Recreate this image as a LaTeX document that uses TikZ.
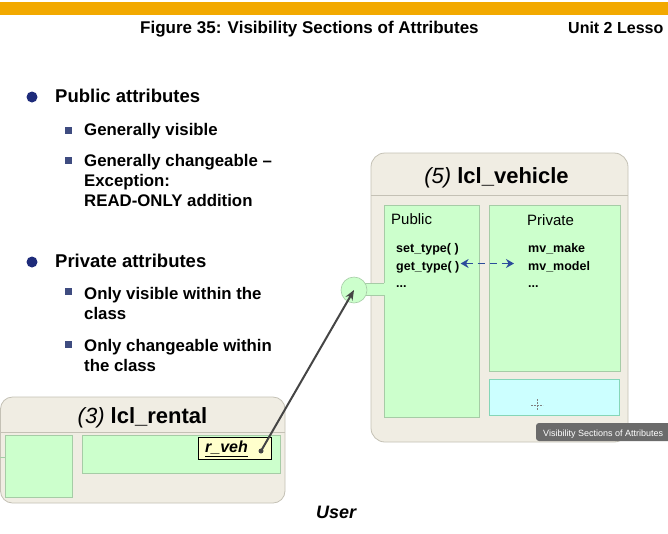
\documentclass[tikz,border=0pt]{standalone}
\usepackage{fontspec}
\setmainfont{Liberation Sans}
\usetikzlibrary{arrows.meta}
\usetikzlibrary{positioning}

\definecolor{barorange}{HTML}{F2A900}
\definecolor{bulletblue}{HTML}{1E2B7A}
\definecolor{squareblue}{HTML}{3F4C80}
\definecolor{classbg}{HTML}{F0EDE3}
\definecolor{classline}{HTML}{C4C1B5}
\definecolor{panelgreen}{HTML}{CCFFCC}
\definecolor{panelline}{HTML}{A6CCA6}
\definecolor{panelcyan}{HTML}{CCFFFF}
\definecolor{refyellow}{HTML}{FFFFCC}
\definecolor{arrowblue}{HTML}{2B4C9B}
\definecolor{linkgray}{HTML}{454545}
\definecolor{tipgray}{HTML}{6B6B6B}

\tikzset{
  header/.style={font=\bfseries\fontsize{17}{20}\selectfont, anchor=base west, inner sep=0pt},
  maintxt/.style={font=\bfseries\fontsize{18.5}{22}\selectfont, anchor=base west, inner sep=0pt},
  subtxt/.style={font=\bfseries\fontsize{16.8}{20}\selectfont, anchor=base west, inner sep=0pt},
  bigdot/.style={circle, fill=bulletblue, minimum size=11pt, inner sep=0pt},
  sqbullet/.style={rectangle, fill=squareblue, minimum size=7pt, inner sep=0pt},
  classbox/.style={fill=classbg, draw=classline, line width=0.8pt, rounded corners=14pt},
  classtitle/.style={font=\bfseries\fontsize{22}{26}\selectfont, anchor=base, inner sep=0pt},
  panel/.style={rectangle, fill=panelgreen, draw=panelline, line width=0.6pt, anchor=north west, inner sep=0pt},
  cyanpanel/.style={panel, fill=panelcyan, draw=panelline!80!cyan},
  paneltitle/.style={font=\fontsize{15}{18}\selectfont, anchor=base west, inner sep=0pt},
  member/.style={font=\bfseries\fontsize{12.5}{15}\selectfont, anchor=base west, inner sep=0pt},
  dasharrow/.style={arrowblue, line width=1.6pt, dash pattern=on 7pt off 5pt, {Stealth[length=8pt,width=9pt]}-{Stealth[length=8pt,width=9pt]}},
  socket/.style={circle, fill=panelgreen, draw=panelline, line width=0.6pt, minimum size=26pt, inner sep=0pt},
  refbox/.style={rectangle, fill=refyellow, draw=black, line width=0.8pt, anchor=north west, inner sep=0pt},
  reftxt/.style={font=\bfseries\itshape\fontsize{16}{19}\selectfont, anchor=base west, inner sep=0pt},
  refdot/.style={circle, fill=linkgray, minimum size=5pt, inner sep=0pt},
  refarrow/.style={linkgray, line width=2pt, -{Stealth[length=10pt,width=8pt]}},
  usertxt/.style={font=\bfseries\itshape\fontsize{18}{21}\selectfont, anchor=base west, inner sep=0pt},
  tiptxt/.style={font=\fontsize{9}{11}\selectfont, text=white, anchor=base west, inner sep=0pt}
}

\begin{document}
\begin{tikzpicture}[x=1pt,y=-1pt]
  \useasboundingbox (0,0) rectangle (668,533);
  \fill[white] (0,0) rectangle (668,533);

  % header bar and caption
  \fill[barorange] (0,1.5) rectangle (668,15);
  \node[header] (title) at (140,33) {Figure 35: Visibility Sections of Attributes};
  \node[header, font=\bfseries\fontsize{16}{19}\selectfont] (unit) at (568,33) {Unit 2 Lesso};

  % bullet list
  \node[bigdot] (dot1) at (32,97) {};
  \node[maintxt] (pub) at (55,102.5) {Public attributes};
  \node[bigdot] (dot2) at (32,262) {};
  \node[maintxt] (priv) at (55,267) {Private attributes};
  \foreach \y/\n in {130.5/1,160.5/2,291.5/3,344/4}
    \node[sqbullet] (sq\n) at (68.5,\y) {};
  \node[subtxt] (pubvis) at (84,135) {Generally visible};
  \node[subtxt] (pubchg) at (84,166.5) {Generally changeable --};
  \node[subtxt] (pubexc) at (84,186.5) {Exception:};
  \node[subtxt] (pubro) at (84,206.5) {READ-ONLY addition};
  \node[subtxt] (privvis) at (84,299) {Only visible within the};
  \node[subtxt] (privvis2) at (84,319) {class};
  \node[subtxt] (privchg) at (84,351) {Only changeable within};
  \node[subtxt] (privchg2) at (84,371) {the class};

  % class lcl_vehicle
  \draw[classbox] (371,153) rectangle (628,442);
  \draw[classline, line width=0.8pt] (371,195) -- (628,195);
  \node[classtitle] (vehtitle) at (496.5,183.5) {\textit{\mdseries (5)} lcl\_vehicle};
  \node[panel, minimum width=95pt, minimum height=212pt] (vpub) at (384,205) {};
  \node[panel, minimum width=131pt, minimum height=166pt] (vpriv) at (489,205) {};
  \node[cyanpanel, minimum width=130pt, minimum height=36pt] (vcyan) at (489,379) {};
  \node[paneltitle] (vpubtitle) at (391,224) {Public};
  \node[member] (settype) at (396,252.5) {set\_type( )};
  \node[member] (gettype) at (396,270.5) {get\_type( )};
  \node[member] (pubdots) at (396,287) {...};
  \node[paneltitle] (vprivtitle) at (527,225) {Private};
  \node[member] (mvmake) at (528,252.5) {mv\_make};
  \node[member] (mvmodel) at (528,270.5) {mv\_model};
  \node[member] (privdots) at (528,287) {...};
  \draw[dasharrow] ([xshift=1pt,yshift=7pt]gettype.base east) -- ([xshift=-14pt,yshift=7pt]mvmodel.base west);

  % socket on the public section
  \fill[panelgreen] (360,283) rectangle (385,295);
  \draw[panelline, line width=0.6pt] (365,283) -- (384,283) (365,295) -- (384,295);
  \node[socket] (vsock) at (354,290) {};

  % class lcl_rental
  \draw[classbox, rounded corners=12pt] (0.5,397) rectangle (285,503);
  \draw[classline, line width=0.8pt] (0.5,432) -- (285,432);
  \node[classtitle] (rentitle) at (142.5,423) {\textit{\mdseries (3)} lcl\_rental};
  \node[panel, minimum width=67pt, minimum height=62pt] (rleft) at (5,435) {};
  \node[panel, minimum width=198pt, minimum height=38pt] (rright) at (82,435) {};
  \draw[panelline, line width=0.8pt] (0,457) -- (rleft.west |- 0,457);
  \node[refbox, minimum width=73pt, minimum height=22pt] (rvehbox) at (198,437) {};
  \node[reftxt] (rveh) at (205,452.5) {\underline{r\_veh}};
  \node[refdot] (rdot) at (261,451) {};

  % reference to the socket
  \draw[refarrow] (rdot.center) -- (vsock.center);

  \node[usertxt] (user) at (316,518) {User};

  % tooltip and cursor
  \fill[tipgray, rounded corners=3pt] (536,423) rectangle (672,441);
  \node[tiptxt] (tip) at (543,436) {Visibility Sections of Attributes};
  \draw[gray, line width=0.8pt, dash pattern=on 2pt off 1pt] (531,405) -- (543,405) (537,399) -- (537,411);
\end{tikzpicture}
\end{document}
